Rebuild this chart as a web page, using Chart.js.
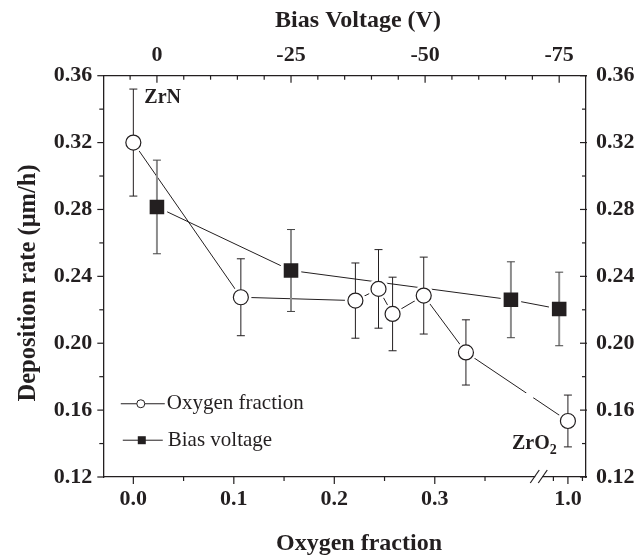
<!DOCTYPE html>
<html><head><meta charset="utf-8">
<script src="https://cdn.jsdelivr.net/npm/chart.js@4.4.1/dist/chart.umd.min.js"></script>
<style>html,body{margin:0;padding:0;background:#fff}</style>
</head><body>
<canvas id="c" width="643" height="557"></canvas>
<script>
// ---- data ----
const oxygenFraction = [0.0, 0.107, 0.221, 0.244, 0.258, 0.289, 0.331, 1.0];
const oxygenRate     = [0.320, 0.2275, 0.2255, 0.2325, 0.2175, 0.2285, 0.1945, 0.1535];
const oxygenErr      = [0.032, 0.023, 0.0225, 0.0235, 0.022, 0.023, 0.0195, 0.0155];
const biasVoltage    = [0, -25, -66, -75];
const biasRate       = [0.2815, 0.2435, 0.226, 0.2205];
const biasErr        = [0.028, 0.0245, 0.0227, 0.022];
const oxygenTickValues = [0, 0.1, 0.2, 0.3, 1.0];
const oxygenTickLabels = ['0.0', '0.1', '0.2', '0.3', '1.0'];
const oxygenMinorValues = [0.05, 0.15, 0.25, 0.35, 0.95, 1.05];
const biasTickValues = [0, -25, -50, -75];
const biasMinorValues = [5, -5, -10, -15, -20, -30, -35, -40, -45, -55, -60, -65, -70];
const rateMajor = [0.12, 0.16, 0.20, 0.24, 0.28, 0.32, 0.36];
const rateMinor = [0.14, 0.18, 0.22, 0.26, 0.30, 0.34];

// broken-axis transform: values beyond the break (0.4 … 0.9) are compressed
const brk = f => f <= 0.5 ? f : 0.4036 + (f - 0.9) * 0.289;

const INK = '#231f20';
const SERIF = "'Liberation Serif', 'DejaVu Serif', serif";
const boldSerif = s => ({family: SERIF, size: s, weight: 'bold'});

const oxyPoints = oxygenFraction.map((f, i) => ({x: brk(f), y: oxygenRate[i]}));
const biasPoints = biasVoltage.map((v, i) => ({x: v, y: biasRate[i]}));

function drawErrorBars(chart) {
  const {ctx, scales} = chart;
  const y = scales.y;
  ctx.save();
  ctx.strokeStyle = INK; ctx.lineWidth = 1;
  oxygenFraction.forEach((f, i) => {
    const px = scales.x.getPixelForValue(brk(f));
    const t = y.getPixelForValue(oxygenRate[i] + oxygenErr[i]);
    const b = y.getPixelForValue(oxygenRate[i] - oxygenErr[i]);
    ctx.beginPath();
    ctx.moveTo(px, t); ctx.lineTo(px, b);
    ctx.moveTo(px - 4, t); ctx.lineTo(px + 4, t);
    ctx.moveTo(px - 4, b); ctx.lineTo(px + 4, b);
    ctx.stroke();
  });
  biasVoltage.forEach((v, i) => {
    const px = scales.x2.getPixelForValue(v);
    const t = y.getPixelForValue(biasRate[i] + biasErr[i]);
    const b = y.getPixelForValue(biasRate[i] - biasErr[i]);
    ctx.strokeStyle = '#8c8c8c'; ctx.lineWidth = 2;
    ctx.beginPath(); ctx.moveTo(px, t); ctx.lineTo(px, b); ctx.stroke();
    ctx.strokeStyle = '#444'; ctx.lineWidth = 1;
    ctx.beginPath();
    ctx.moveTo(px - 4, t); ctx.lineTo(px + 4, t);
    ctx.moveTo(px - 4, b); ctx.lineTo(px + 4, b);
    ctx.stroke();
  });
  ctx.restore();
}

const decorPlugin = {
  id: 'decor',
  afterDatasetDraw(chart, args) {
    const ds = chart.data.datasets[args.index];
    if (ds.role === 'oxyLine') {
      // gap in the oxygen line where it crosses the axis break
      const {ctx, scales} = chart;
      const m = chart.getDatasetMeta(args.index).data;
      const p = m[m.length - 2], q = m[m.length - 1];
      const bx = scales.x.getPixelForValue(0.4);
      const x1 = bx - 9, x2 = bx - 2;
      const yAt = x => p.y + (q.y - p.y) * (x - p.x) / (q.x - p.x);
      ctx.save(); ctx.strokeStyle = '#fff'; ctx.lineWidth = 4; ctx.lineCap = 'butt';
      ctx.beginPath(); ctx.moveTo(x1, yAt(x1)); ctx.lineTo(x2, yAt(x2)); ctx.stroke(); ctx.restore();
    }
    if (ds.role === 'haloLast') drawErrorBars(chart);
  },
  afterDraw(chart) {
    const {ctx, chartArea: a, scales} = chart;
    ctx.save();
    ctx.strokeStyle = INK; ctx.lineWidth = 1.2;
    const line = (x1, y1, x2, y2) => { ctx.beginPath(); ctx.moveTo(x1, y1); ctx.lineTo(x2, y2); ctx.stroke(); };
    // left (outward) and right (inward) ticks
    rateMajor.forEach(v => { const p = scales.y.getPixelForValue(v); line(a.left - 6, p, a.left, p); line(a.right - 6, p, a.right + 1, p); });
    rateMinor.forEach(v => { const p = scales.y.getPixelForValue(v); line(a.left - 4, p, a.left, p); line(a.right - 4, p, a.right, p); });
    // top ticks (inward)
    biasTickValues.forEach(v => { const p = scales.x2.getPixelForValue(v); line(p, a.top, p, a.top + 7); });
    biasMinorValues.forEach(v => { const p = scales.x2.getPixelForValue(v); line(p, a.top, p, a.top + 4); });
    // bottom ticks (outward)
    oxygenTickValues.forEach(v => { const p = scales.x.getPixelForValue(brk(v)); line(p, a.bottom, p, a.bottom + 7); });
    oxygenMinorValues.forEach(v => { const p = scales.x.getPixelForValue(brk(v)); line(p, a.bottom, p, a.bottom + 4); });
    // axis break marks
    const bx = scales.x.getPixelForValue(0.4);
    ctx.fillStyle = '#fff';
    ctx.fillRect(bx, a.bottom - 2, 7, 4);
    line(bx - 5, a.bottom + 6, bx + 4, a.bottom - 7);
    line(bx + 3, a.bottom + 6, bx + 12, a.bottom - 7);

    // axis titles
    ctx.fillStyle = INK;
    ctx.textAlign = 'center'; ctx.textBaseline = 'middle';
    ctx.font = "bold 24px " + SERIF;
    ctx.fillText('Bias Voltage (V)', 358, 21);
    ctx.fillText('Oxygen fraction', 359, 544);
    ctx.save();
    ctx.translate(29, 283); ctx.rotate(-Math.PI / 2);
    ctx.font = "bold 24.5px " + SERIF;
    ctx.fillText('Deposition rate (\u03bcm/h)', 0, 0);
    ctx.restore();

    // annotations
    ctx.font = "bold 20px " + SERIF;
    ctx.textBaseline = 'alphabetic'; ctx.textAlign = 'left';
    ctx.fillText('ZrN', scales.x.getPixelForValue(brk(0)) + 11, scales.y.getPixelForValue(0.3435));
    const zx = scales.x.getPixelForValue(brk(1.0)) - 56, zy = scales.y.getPixelForValue(0.1365);
    ctx.fillText('ZrO', zx, zy);
    const w = ctx.measureText('ZrO').width;
    ctx.font = "bold 14px " + SERIF;
    ctx.fillText('2', zx + w, zy + 5);

    // legend
    const lx = scales.x.getPixelForValue(-0.0125);
    const ly1 = scales.y.getPixelForValue(0.1638), ly2 = scales.y.getPixelForValue(0.1420);
    ctx.lineWidth = 1;
    line(lx, ly1, lx + 44, ly1);
    line(lx + 2, ly2, lx + 42, ly2);
    ctx.beginPath(); ctx.arc(lx + 20, ly1, 4, 0, Math.PI * 2); ctx.fillStyle = '#fff'; ctx.fill(); ctx.stroke();
    ctx.fillStyle = INK; ctx.fillRect(lx + 17, ly2 - 4, 8, 8);
    ctx.font = "21px " + SERIF;
    ctx.textBaseline = 'middle';
    ctx.fillText('Oxygen fraction', lx + 46, ly1);
    ctx.fillText('Bias voltage', lx + 47, ly2);
    ctx.restore();
  }
};

const noPts = {pointRadius: 0, pointHoverRadius: 0};
new Chart(document.getElementById('c'), {
  type: 'line',
  data: {
    datasets: [
      // connecting lines (drawn first)
      {label: 'Oxygen fraction', role: 'oxyLine', data: oxyPoints, xAxisID: 'x', yAxisID: 'y',
       borderColor: INK, borderWidth: 1, tension: 0, order: 5, ...noPts},
      {label: 'Bias voltage', role: 'biasLine', data: biasPoints, xAxisID: 'x2', yAxisID: 'y',
       borderColor: INK, borderWidth: 1, tension: 0, order: 4.5, ...noPts},
      // white halos leave small gaps between lines and markers
      {label: 'halo-o', role: 'halo', data: oxyPoints, xAxisID: 'x', yAxisID: 'y', showLine: false, order: 4,
       pointStyle: 'circle', pointRadius: 10.5, pointBackgroundColor: '#fff', pointBorderWidth: 0},
      {label: 'halo-b', role: 'haloLast', data: biasPoints, xAxisID: 'x2', yAxisID: 'y', showLine: false, order: 3.5,
       pointStyle: 'rect', pointRadius: 14.5, pointBackgroundColor: '#fff', pointBorderWidth: 0},
      // markers
      {label: 'Oxygen fraction markers', data: oxyPoints, xAxisID: 'x', yAxisID: 'y', showLine: false, order: 2,
       pointStyle: 'circle', pointRadius: 7.5,
       pointBackgroundColor: '#fff', pointBorderColor: INK, pointBorderWidth: 1.2},
      {label: 'Bias voltage markers', data: biasPoints, xAxisID: 'x2', yAxisID: 'y', showLine: false, order: 1,
       pointStyle: 'rect', pointRadius: 10.3,
       pointBackgroundColor: INK, pointBorderColor: INK, pointBorderWidth: 0}
    ]
  },
  options: {
    responsive: false, animation: false, events: [],
    layout: {padding: 0},
    plugins: {legend: {display: false}, tooltip: {enabled: false}},
    scales: {
      x: {
        type: 'linear', position: 'bottom', min: -0.0299, max: 0.4505,
        afterBuildTicks: s => { s.ticks = oxygenTickValues.map(v => ({value: brk(v)})); },
        ticks: {callback: (v, i) => oxygenTickLabels[i], font: boldSerif(22), color: INK, padding: 9, maxRotation: 0, autoSkip: false},
        grid: {display: false, drawTicks: false},
        border: {display: true, color: INK, width: 1.3},
        afterFit: s => { s.height = 80; }
      },
      x2: {
        type: 'linear', position: 'top', min: -80, max: 10, reverse: true,
        afterBuildTicks: s => { s.ticks = biasTickValues.map(v => ({value: v})); },
        ticks: {callback: v => String(v), font: boldSerif(22), color: INK, padding: 7, maxRotation: 0, autoSkip: false},
        grid: {display: false, drawTicks: false},
        border: {display: true, color: INK, width: 1.3},
        afterFit: s => { s.height = 75.7; }
      },
      y: {
        type: 'linear', position: 'left', min: 0.12, max: 0.36,
        afterBuildTicks: s => { s.ticks = rateMajor.map(v => ({value: v})); },
        ticks: {callback: v => v.toFixed(2), font: boldSerif(22), color: INK, padding: 11},
        grid: {display: false, drawTicks: false},
        border: {display: true, color: INK, width: 1.3},
        afterFit: s => { s.width = 103.3; }
      },
      y2: {
        type: 'linear', position: 'right', min: 0.12, max: 0.36,
        afterBuildTicks: s => { s.ticks = rateMajor.map(v => ({value: v})); },
        ticks: {callback: v => v.toFixed(2), font: boldSerif(22), color: INK, padding: 10},
        grid: {display: false, drawTicks: false},
        border: {display: true, color: INK, width: 1.3},
        afterFit: s => { s.width = 57; }
      }
    }
  },
  plugins: [decorPlugin]
});
</script>
</body></html>
